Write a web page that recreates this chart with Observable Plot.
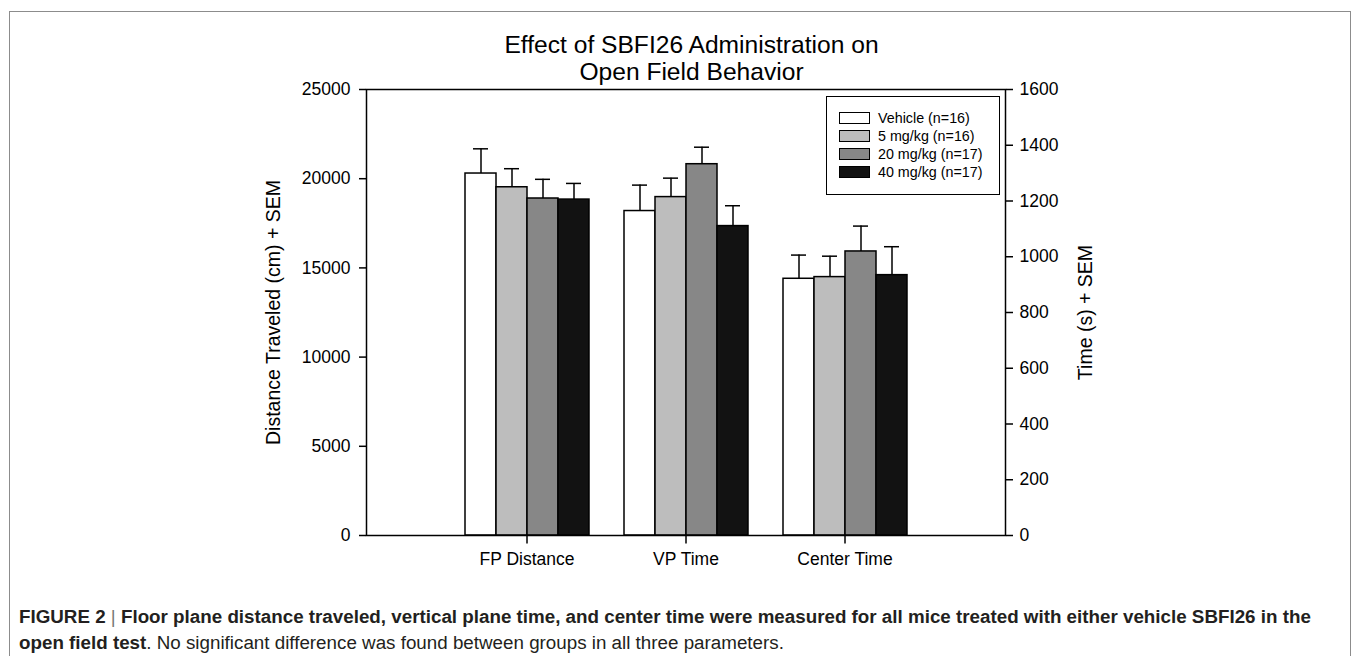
<!DOCTYPE html>
<html>
<head>
<meta charset="utf-8">
<script src="https://cdn.jsdelivr.net/npm/d3@7"></script>
<script src="https://cdn.jsdelivr.net/npm/@observablehq/plot@0.6"></script>
<style>
  html, body { margin: 0; padding: 0; background: #fff; }
  #fig { position: relative; width: 1357px; height: 656px; overflow: hidden; background: #fff;
         font-family: "Liberation Sans", Arial, Helvetica, sans-serif; color: #000; }
  #border { position: absolute; left: 9px; top: 11px; width: 1342px; height: 700px;
            border: 1.5px solid #8c8c8c; box-sizing: border-box; }
  #title { position: absolute; left: 372px; width: 639px; top: 31px; text-align: center;
           font-size: 24.6px; line-height: 27px; }
  #bars, #axes { position: absolute; left: 0; top: 0; }
  #legend { position: absolute; left: 826px; top: 96px; width: 174px; height: 99px;
            border: 1.5px solid #000; box-sizing: border-box; background: #fff; padding-top: 12px; }
  .lrow { display: flex; align-items: center; height: 18px; font-size: 14.3px; }
  .sw { width: 31px; height: 12px; border: 1.5px solid #000; margin-left: 12px; margin-right: 8px; box-sizing: border-box; }
  #caption { position: absolute; left: 19px; top: 604px; font-size: 18.8px; line-height: 26px;
             color: #231f20; white-space: nowrap; }
  #caption b { font-weight: bold; }
  #caption .sep { font-weight: normal; color: #777; }
</style>
</head>
<body>
<div id="fig">
  <div id="border"></div>
  <div id="bars"></div>
  <div id="axes"></div>
  <div id="title">Effect of SBFI26 Administration on<br>Open Field Behavior</div>
  <div id="legend"></div>
  <div id="caption"><b>FIGURE 2 <span class="sep">|</span> Floor plane distance traveled, vertical plane time, and center time were measured for all mice treated with either vehicle SBFI26 in the</b><br><b>open field test</b>. No significant difference was found between groups in all three parameters.</div>
</div>
<script>
// ---- data ----
const categories = ["FP Distance", "VP Time", "Center Time"];
const groups = ["Vehicle (n=16)", "5 mg/kg (n=16)", "20 mg/kg (n=17)", "40 mg/kg (n=17)"];
const groupColors = ["#ffffff", "#bdbdbd", "#878787", "#121212"];

// FP Distance in cm (left axis)
const fpDistanceMean = [20290, 19520, 18890, 18830];
const fpDistanceSem  = [1385, 1040, 1075, 905];
// VP Time and Center Time in seconds (right axis)
const vpTimeMean = [1164, 1214, 1332, 1110];
const vpTimeSem  = [93, 68, 61, 73];
const centerTimeMean = [921, 927, 1019, 934];
const centerTimeSem  = [85, 75, 91, 102];

const distanceTicks = [0, 5000, 10000, 15000, 20000, 25000];
const timeTicks = [0, 200, 400, 600, 800, 1000, 1200, 1400, 1600];
const distanceMax = 25000;
const timeMax = 1600;

// ---- table for Plot ----
const k = distanceMax / timeMax; // seconds -> shared y units
const rows = [];
groups.forEach((g, i) => {
  rows.push({metric: categories[0], group: g, y: fpDistanceMean[i], upper: fpDistanceMean[i] + fpDistanceSem[i]});
  rows.push({metric: categories[1], group: g, y: vpTimeMean[i] * k, upper: (vpTimeMean[i] + vpTimeSem[i]) * k});
  rows.push({metric: categories[2], group: g, y: centerTimeMean[i] * k, upper: (centerTimeMean[i] + centerTimeSem[i]) * k});
});

const common = {
  width: 1357,
  height: 590,
  marginLeft: 366,
  marginRight: 352,
  marginTop: 89,
  marginBottom: 55,
  style: {fontFamily: "'Liberation Sans', Arial, sans-serif", fontSize: "17.5px", color: "#000", background: "transparent"}
};
const bandOpts = {domain: categories, paddingInner: 0.2, paddingOuter: 0.6};

// grouped bars (faceted by metric)
const bars = Plot.plot({
  ...common,
  fx: {...bandOpts, axis: null},
  x: {domain: groups, padding: 0, axis: null},
  y: {domain: [0, distanceMax], axis: null},
  color: {domain: groups, range: groupColors},
  marks: [
    Plot.barY(rows, {fx: "metric", x: "group", y: "y", fill: "group", stroke: "#000", strokeWidth: 1.5}),
    Plot.ruleX(rows, {fx: "metric", x: "group", y1: "y", y2: "upper", stroke: "#000", strokeWidth: 1.5}),
    Plot.tickY(rows, {fx: "metric", x: "group", y: "upper", stroke: "#000", strokeWidth: 1.5, insetLeft: 8, insetRight: 8})
  ]
});
document.getElementById("bars").appendChild(bars);

// short downward tick glyph for the category axis
const downTick = {draw(context) { context.moveTo(0, 0); context.lineTo(0, 8); }};

// frame, category axis and the two value axes (same scales)
const axes = Plot.plot({
  ...common,
  x: {type: "band", ...bandOpts},
  y: {domain: [0, distanceMax]},
  marks: [
    Plot.frame({stroke: "#000", strokeWidth: 1.5}),
    Plot.dot(categories, {x: d => d, frameAnchor: "bottom", symbol: downTick, fill: "none", stroke: "#000", strokeWidth: 1.5}),
    Plot.axisX({anchor: "bottom", tickSize: 0, tickPadding: 17, fontSize: 17.5, label: null}),
    Plot.axisY(distanceTicks, {anchor: "left", tickSize: 7, tickPadding: 9, fontSize: 17.5, strokeWidth: 1.5,
      tickFormat: d => String(d), label: null}),
    Plot.axisY({anchor: "left", ticks: [], fontSize: 19.5,
      label: "Distance Traveled (cm) + SEM", labelAnchor: "center", labelArrow: "none", labelOffset: 100}),
    Plot.axisY(timeTicks.map(t => t * k), {anchor: "right", tickSize: 7, tickPadding: 7, fontSize: 17.5, strokeWidth: 1.5,
      tickFormat: d => String(Math.round(d / k)), label: null}),
    Plot.axisY({anchor: "right", ticks: [], fontSize: 19.5,
      label: "Time (s) + SEM", labelAnchor: "center", labelArrow: "none", labelOffset: 86})
  ]
});
document.getElementById("axes").appendChild(axes);

// ---- legend ----
const legend = document.getElementById("legend");
groups.forEach((g, i) => {
  const row = document.createElement("div");
  row.className = "lrow";
  const sw = document.createElement("div");
  sw.className = "sw";
  sw.style.background = groupColors[i];
  const t = document.createElement("span");
  t.textContent = g;
  row.appendChild(sw);
  row.appendChild(t);
  legend.appendChild(row);
});
</script>
</body>
</html>
